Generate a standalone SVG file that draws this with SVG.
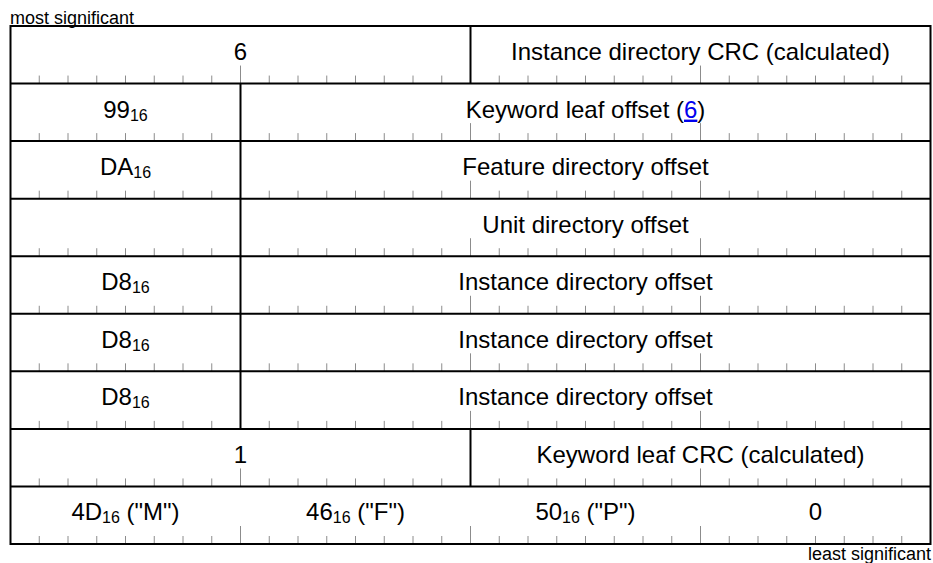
<svg xmlns="http://www.w3.org/2000/svg" xmlns:xlink="http://www.w3.org/1999/xlink" width="933" height="563" viewBox="0 0 933 563">
<style>
.t{font-family:"Liberation Sans",Arial,sans-serif;font-size:24px;fill:#000;text-anchor:middle}
.sub{font-size:16px}
.lbl{font-family:"Liberation Sans",Arial,sans-serif;font-size:18px;fill:#000}
.ln{stroke:#000;stroke-width:2;fill:none}
.tick{stroke:#8c8c8c;stroke-width:1;fill:none}
.link{fill:#0000ee;text-decoration:underline}
</style>
<defs>
<g id="tk">
<path class="tick" d="M39.25 0v-8M68 0v-8M96.75 0v-8M125.5 0v-8M154.25 0v-8M183 0v-8M211.75 0v-8M240.5 0v-18M269.25 0v-8M298 0v-8M326.75 0v-8M355.5 0v-8M384.25 0v-8M413 0v-8M441.75 0v-8M470.5 0v-18M499.25 0v-8M528 0v-8M556.75 0v-8M585.5 0v-8M614.25 0v-8M643 0v-8M671.75 0v-8M700.5 0v-18M729.25 0v-8M758 0v-8M786.75 0v-8M815.5 0v-8M844.25 0v-8M873 0v-8M901.75 0v-8"/>
</g>
</defs>
<rect width="933" height="563" fill="#fff"/>
<g id="ticks">
<use xlink:href="#tk" href="#tk" y="83.56"/>
<use xlink:href="#tk" href="#tk" y="141.11"/>
<use xlink:href="#tk" href="#tk" y="198.67"/>
<use xlink:href="#tk" href="#tk" y="256.22"/>
<use xlink:href="#tk" href="#tk" y="313.78"/>
<use xlink:href="#tk" href="#tk" y="371.33"/>
<use xlink:href="#tk" href="#tk" y="428.89"/>
<use xlink:href="#tk" href="#tk" y="486.44"/>
<use xlink:href="#tk" href="#tk" y="544"/>
</g>
<g id="frame">
<rect class="ln" x="10.5" y="26" width="920" height="518"/>
<path class="ln" d="M10.5 83.56H930.5M10.5 141.11H930.5M10.5 198.67H930.5M10.5 256.22H930.5M10.5 313.78H930.5M10.5 371.33H930.5M10.5 428.89H930.5M10.5 486.44H930.5"/>
</g>
<g id="connectors"></g>
<g id="row1">
<path class="ln" d="M470.5 26V83.56"/>
<text class="t" x="240.5" y="60">6</text>
<text class="t" x="700.5" y="60">Instance directory CRC (calculated)</text>
</g>
<g id="row2">
<path class="ln" d="M240.5 83.56V141.11"/>
<text class="t" x="125.5" y="117.6">99<tspan class="sub" dy="3">16</tspan></text>
<text class="t" x="585.5" y="117.6">Keyword leaf offset (<tspan class="link">6</tspan>)</text>
</g>
<g id="row3">
<path class="ln" d="M240.5 141.11V198.67"/>
<text class="t" x="125.5" y="175.1">DA<tspan class="sub" dy="3">16</tspan></text>
<text class="t" x="585.5" y="175.1">Feature directory offset</text>
</g>
<g id="row4">
<path class="ln" d="M240.5 198.67V256.22"/>
<text class="t" x="585.5" y="232.7">Unit directory offset</text>
</g>
<g id="row5">
<path class="ln" d="M240.5 256.22V313.78"/>
<text class="t" x="125.5" y="290.2">D8<tspan class="sub" dy="3">16</tspan></text>
<text class="t" x="585.5" y="290.2">Instance directory offset</text>
</g>
<g id="row6">
<path class="ln" d="M240.5 313.78V371.33"/>
<text class="t" x="125.5" y="347.8">D8<tspan class="sub" dy="3">16</tspan></text>
<text class="t" x="585.5" y="347.8">Instance directory offset</text>
</g>
<g id="row7">
<path class="ln" d="M240.5 371.33V428.89"/>
<text class="t" x="125.5" y="405.3">D8<tspan class="sub" dy="3">16</tspan></text>
<text class="t" x="585.5" y="405.3">Instance directory offset</text>
</g>
<g id="row8">
<path class="ln" d="M470.5 428.89V486.44"/>
<text class="t" x="240.5" y="462.9">1</text>
<text class="t" x="700.5" y="462.9">Keyword leaf CRC (calculated)</text>
</g>
<g id="row9">
<text class="t" x="125.5" y="520.4">4D<tspan class="sub" dy="3">16</tspan><tspan dy="-3"> ("M")</tspan></text>
<text class="t" x="355.5" y="520.4">46<tspan class="sub" dy="3">16</tspan><tspan dy="-3"> ("F")</tspan></text>
<text class="t" x="585.5" y="520.4">50<tspan class="sub" dy="3">16</tspan><tspan dy="-3"> ("P")</tspan></text>
<text class="t" x="815.5" y="520.4">0</text>
</g>
<g id="labels">
<text class="lbl" x="10" y="24">most significant</text>
<text class="lbl" x="931" y="560" text-anchor="end">least significant</text>
</g>
</svg>
